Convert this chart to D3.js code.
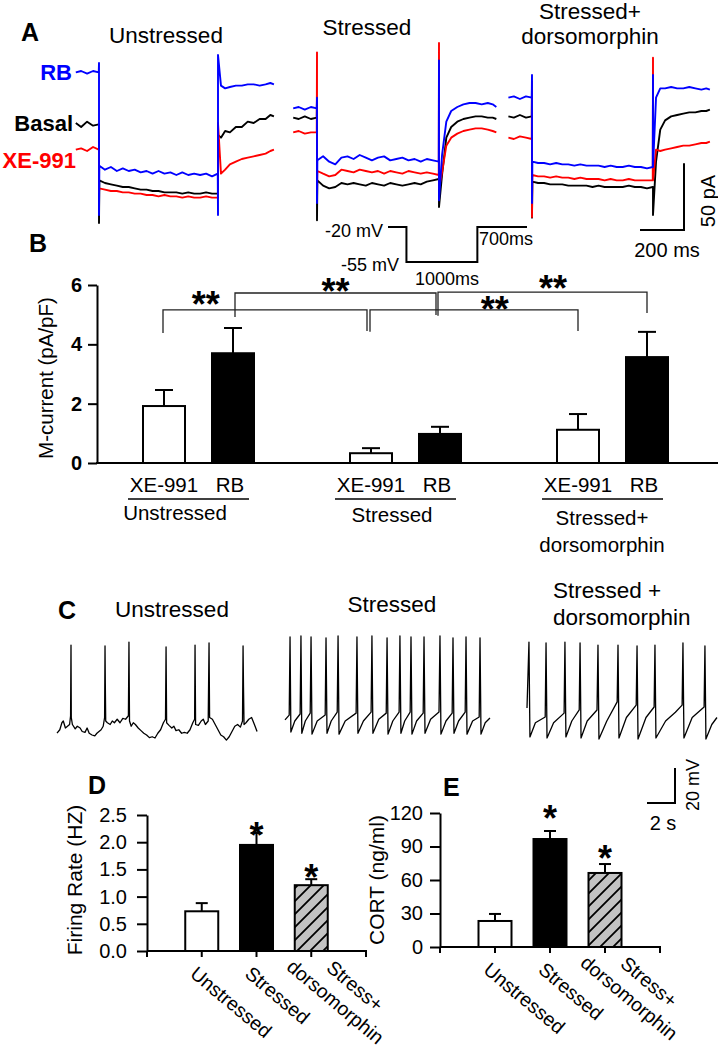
<!DOCTYPE html>
<html><head><meta charset="utf-8">
<script src="https://cdn.jsdelivr.net/npm/d3@7"></script>
<style>
body{margin:0;background:#fff}
svg{display:block}
text{font-family:"Liberation Sans",Arial,Helvetica,sans-serif}
</style>
</head><body>
<svg id="fig" width="718" height="1050"></svg>
<script>
// ================= DATA =================
// Panel A – whole-cell currents (pA); time in ms, voltage step from 0 to 1000 ms
const aPreT  = [-195, -150, -100, -50, -2];
const aStepT = [3, 50, 100, 150, 200, 250, 300, 350, 400, 450, 500, 550, 600, 650, 700, 750, 800, 850, 900, 950, 998];
const aPostT = [1025, 1060, 1100, 1150, 1200, 1250, 1300, 1350, 1400, 1440, 1470];
const aUnstressedBasal = {pre:[69,66,70,67,68], on:[68,-6], step:[26,24,23,22,21,21,20,19,19,18,18,17,17,17,16,17,16,16,17,16,16], off:[16,60], post:[58,63,62,66,66,70,69,72,72,75,74]};
const aUnstressedXE    = {pre:[49,50,48,51,49], on:[49,17], step:[20,19,18,18,17,17,16,16,15,15,14,15,14,14,13,14,13,13,14,13,13], off:[13,69], post:[31,34,38,40,42,43,44,45,46,48,49]};
const aUnstressedRB    = {pre:[107,108,106,108,107], on:[114,0], step:[37,34,36,33,35,33,34,32,33,31,33,31,32,30,32,30,31,30,31,29,31], off:[0,120], post:[97,95,96,97,97,98,98,97,98,99,98]};
const aStressedBasal   = {pre:[73,72,74,72,73], on:[87,-4], step:[26,22,20,21,24,23,24,23,22,24,23,22,24,23,22,23,24,23,25,26,27], off:[27,6], post:[30,58,66,70,72,73,74,74,73,73,72]};
const aStressedXE      = {pre:[62,63,61,62,62], on:[122,19], step:[33,31,29,30,34,33,32,34,33,32,33,31,33,32,31,33,32,31,32,31,30], off:[129,20], post:[32,52,58,61,63,64,65,65,64,63,62]};
const aStressedRB      = {pre:[80,81,79,81,80], on:[88,9], step:[41,44,40,38,43,44,42,45,43,41,43,44,41,42,43,41,42,40,42,41,40], off:[116,11], post:[45,70,78,81,83,84,84,83,84,83,81]};
const aDorsoBasal      = {pre:[74,73,75,73,74], on:[100,-2], step:[25,24,24,23,23,23,22,22,22,22,21,22,21,21,21,21,22,21,21,20,21], off:[21,0], post:[40,64,71,74,75,76,77,77,78,78,79]};
const aDorsoXE         = {pre:[58,57,59,58,57], on:[100,-1.5], step:[30,29,29,28,29,28,28,27,28,27,27,27,26,27,26,26,27,26,26,26,26], off:[118,26], post:[49,48,49,50,51,52,52,53,54,54,55]};
const aDorsoRB         = {pre:[88,89,87,89,88], on:[105,9], step:[40,39,39,38,39,38,38,37,38,37,37,37,36,37,36,36,37,36,36,35,36], off:[105,36], post:[88,95,95,96,95,95,96,95,94,95,94]};
const aTitles = [["Unstressed"], ["Stressed"], ["Stressed+", "dorsomorphin"]];
const aTraceNames = ["RB", "Basal", "XE-991"];
// voltage protocol
const protoT = [-260, 0, 0, 1000, 1000, 1700];
const protoV = [-20, -20, -55, -55, -20, -20];

// Panel B – M-current (pA/pF)
const bGroups = ["Unstressed", "Stressed", "Stressed+ dorsomorphin"];
const bDrugs = ["XE-991", "RB"];
const bXE991Mean = [1.92, 0.33, 1.12];
const bXE991Sem  = [0.54, 0.17, 0.53];
const bRBMean    = [3.70, 0.98, 3.57];
const bRBSem     = [0.85, 0.24, 0.85];
const bTicks = [0, 2, 4, 6];
const bBrackets = [
  {a:["Unstressed","XE-991"], b:["Stressed","XE-991"], top:5.16, legA:4.38, legB:4.45, label:"**"},
  {a:["Unstressed","RB"],     b:["Stressed","RB"],     top:5.73, legA:4.92, legB:4.99, label:"**"},
  {a:["Stressed","XE-991"],   b:["Stressed+ dorsomorphin","XE-991"], top:5.16, legA:4.42, legB:4.45, label:"**"},
  {a:["Stressed","RB"],       b:["Stressed+ dorsomorphin","RB"],     top:5.76, legA:4.96, legB:5.06, label:"**"}
];

// Panel C – membrane potential traces, [time s, mV]
const cUnstressed = [[0,-58.9],[0.2,-57],[0.35,-53],[0.45,-52],[0.6,-56],[0.75,-55],[0.9,-54],[0.97,-49],[1.0,-8.6],[1.02,-50],[1.1,-54],[1.3,-56.5],[1.45,-55],[1.65,-56],[1.8,-58],[2.0,-58.5],[2.15,-56],[2.3,-59],[2.5,-60],[2.7,-60.5],[2.85,-59],[3.0,-58],[3.15,-57],[3.3,-55],[3.4,-50],[3.43,-9.1],[3.45,-30],[3.48,-52],[3.6,-53],[3.8,-54],[3.95,-52],[4.1,-53],[4.3,-51],[4.5,-53],[4.7,-50.5],[4.9,-51],[5.1,-49],[5.14,-6.9],[5.18,-52],[5.3,-55],[5.45,-53],[5.6,-54],[5.8,-56],[6.0,-57.5],[6.2,-59],[6.4,-60],[6.6,-61.5],[6.8,-61],[7.0,-61.7],[7.2,-59],[7.4,-57],[7.6,-53],[7.75,-51],[7.79,-9.7],[7.83,-53],[8.0,-54.5],[8.2,-56],[8.35,-55],[8.5,-57.5],[8.7,-57],[8.9,-59],[9.1,-58.5],[9.3,-59],[9.5,-57],[9.7,-53],[9.83,-51],[9.86,-8.6],[9.9,-54],[10.1,-54.5],[10.3,-52],[10.45,-51],[10.6,-54],[10.8,-52],[10.86,-7.4],[10.9,-50],[11.1,-51],[11.3,-54],[11.5,-57],[11.7,-60],[11.9,-61],[12.1,-62.9],[12.3,-61],[12.5,-58],[12.7,-55],[12.9,-54],[13.1,-55.5],[13.25,-52],[13.29,-9.1],[13.32,-32],[13.36,-54],[13.5,-53],[13.7,-51],[13.9,-50],[14.1,-54],[14.29,-58]];
const cStressed = [[0,-51.4],[0.3,-48.6],[0.36,-4],[0.42,-58.3],[0.7,-52],[1.08,-48],[1.14,-3.4],[1.2,-59],[1.45,-52],[1.8,-47.5],[1.86,-4],[1.93,-59.5],[2.3,-52],[2.87,-48.6],[2.93,-4.5],[3.0,-59],[3.3,-52],[3.73,-46.9],[3.79,-3.4],[3.86,-59.5],[4.3,-52],[5.08,-47.5],[5.14,-4],[5.21,-59],[5.6,-52],[6.15,-46.9],[6.21,-3.4],[6.28,-59],[6.7,-51],[7.23,-47.5],[7.29,-4.5],[7.36,-59.5],[7.7,-52],[8.15,-46.9],[8.21,-3.4],[8.28,-59],[8.55,-52],[8.94,-46.9],[9.0,-4],[9.07,-59.5],[9.4,-52],[9.87,-47.5],[9.93,-4],[10.0,-59],[10.4,-51],[11.0,-46.9],[11.07,-3.4],[11.14,-59.5],[11.5,-52],[11.94,-47.5],[12.0,-4.5],[12.07,-59],[12.4,-52],[12.87,-46.9],[12.93,-4],[13.0,-59.5],[13.4,-52],[13.87,-49.7],[13.93,-4.5],[14.0,-59.5],[14.3,-53],[14.64,-50.3]];
const cDorso = [[0,-44.6],[0.14,-6.9],[0.21,-61.1],[0.6,-53],[1.3,-49.7],[1.36,-7.4],[1.43,-61.7],[1.9,-53],[2.65,-47.5],[2.71,-6.9],[2.78,-61.1],[3.2,-52],[3.73,-45.7],[3.79,-7.4],[3.86,-61.7],[4.3,-52],[5.0,-45.7],[5.07,-8.6],[5.14,-62.3],[5.7,-52],[6.44,-41.1],[6.5,-8.6],[6.57,-61.7],[7.1,-50],[7.8,-42.9],[7.86,-9.1],[7.93,-62.3],[8.5,-50],[9.08,-44],[9.14,-8.6],[9.21,-61.7],[9.9,-52],[10.6,-47],[11.08,-42.9],[11.14,-7.4],[11.21,-61.7],[11.8,-50],[12.65,-44],[12.71,-9.1],[12.78,-62.3],[13.2,-54],[13.57,-50]];
const cTitles = [["Unstressed"], ["Stressed"], ["Stressed +", "dorsomorphin"]];

// Panels D & E
const deCats = ["", "Unstressed", "Stressed", "dorsomorphin", "Stress+"];
const deBarCats = ["Unstressed", "Stressed", "dorsomorphin"];
const firingMean = [0.73, 1.95, 1.21];
const firingSem  = [0.15, 0.22, 0.11];
const firingStar = [null, 2.26, 1.49];
const firingTicks = [0, 0.5, 1.0, 1.5, 2.0, 2.5];
const cortMean = [23.3, 96.7, 66.3];
const cortSem  = [6.3, 7.2, 8.0];
const cortStar = [null, 121.8, 86];
const cortTicks = [0, 30, 60, 90, 120];

// ================= DRAWING =================
const svg = d3.select("#fig");
svg.append("rect").attr("width", 718).attr("height", 1050).attr("fill", "#fff");
const defs = svg.append("defs");
const pat = defs.append("pattern").attr("id", "hatch").attr("patternUnits", "userSpaceOnUse")
  .attr("width", 13).attr("height", 13);
pat.append("rect").attr("width", 13).attr("height", 13).attr("fill", "#c3c3c3");
pat.append("path").attr("d", "M-2,15 L15,-2 M-2,2 L2,-2 M11,15 L15,11").attr("stroke", "#000").attr("stroke-width", 1.8);

function T(x, y, s, size, o = {}) {
  const t = svg.append("text").attr("x", x).attr("y", y).text(s).attr("font-size", size)
    .attr("text-anchor", o.anchor || "start").attr("font-weight", o.bold ? "bold" : "normal")
    .attr("fill", o.fill || "#000");
  if (o.rotate != null) t.attr("transform", `rotate(${o.rotate},${x},${y})`);
  return t;
}
function L(x1, y1, x2, y2, w = 2, c = "#000") {
  return svg.append("line").attr("x1", x1).attr("y1", y1).attr("x2", x2).attr("y2", y2)
    .attr("stroke", c).attr("stroke-width", w);
}

// ---------- Panel A ----------
T(21, 41, "A", 25, {bold: true});
const yA = d3.scaleLinear().domain([0, 120]).range([215, 55]);
const aColors = ["#000000", "#ff0000", "#0000ff"];
const aPanels = [
  {traces: [aUnstressedBasal, aUnstressedXE, aUnstressedRB], x0: 99, x1: 218, tx: 166, ty: [43]},
  {traces: [aStressedBasal, aStressedXE, aStressedRB], x0: 317, x1: 439, tx: 367, ty: [35]},
  {traces: [aDorsoBasal, aDorsoXE, aDorsoRB], x0: 532, x1: 653, tx: 590, ty: [19, 44]}
];
aPanels.forEach((p, k) => {
  const x = d3.scaleLinear().domain([0, 1000]).range([p.x0, p.x1]);
  p.traces.forEach((tr, i) => {
    const pts = [];
    tr.pre.forEach((v, j) => pts.push([aPreT[j], v]));
    tr.on.forEach(v => pts.push([0, v]));
    tr.step.forEach((v, j) => pts.push([aStepT[j], v]));
    tr.off.forEach(v => pts.push([1000, v]));
    tr.post.forEach((v, j) => pts.push([aPostT[j], v]));
    svg.append("path").attr("d", d3.line().x(d => x(d[0])).y(d => yA(d[1]))(pts))
      .attr("fill", "none").attr("stroke", aColors[i]).attr("stroke-width", 1.9)
      .attr("stroke-linejoin", "round");
  });
  aTitles[k].forEach((s, j) => T(p.tx, p.ty[j], s, 22.5, {anchor: "middle"}));
});
T(72, 80, aTraceNames[0], 22, {bold: true, anchor: "end", fill: "#0000ff"});
T(73, 131, aTraceNames[1], 22, {bold: true, anchor: "end"});
T(76, 168, aTraceNames[2], 22, {bold: true, anchor: "end", fill: "#ff0000"});
// voltage protocol
const px = d3.scaleLinear().domain([-260, 1700]).range([388, 527]);
const pv = d3.scaleLinear().domain([-55, -20]).range([262, 227]);
svg.append("path").attr("d", d3.line().x((d, i) => px(protoT[i])).y((d, i) => pv(protoV[i]))(protoT))
  .attr("fill", "none").attr("stroke", "#000").attr("stroke-width", 2);
T(383, 237, "-20 mV", 18, {anchor: "end"});
T(399, 271, "-55 mV", 18, {anchor: "end"});
T(479, 245, "700ms", 18);
T(447, 285, "1000ms", 18, {anchor: "middle"});
// scale bar A (50 pA / 200 ms)
const sbY0 = 230, sbX1 = 684;
L(sbX1, sbY0, sbX1, sbY0 - (yA(0) - yA(50)), 2);
L(sbX1 - 44, sbY0, sbX1 + 1, sbY0, 2);
T(715, 201, "50 pA", 20, {anchor: "middle", rotate: -90});
T(667, 257, "200 ms", 20, {anchor: "middle"});

// ---------- Panel B ----------
T(29, 252, "B", 25, {bold: true});
const yB = d3.scaleLinear().domain([0, 6]).range([463, 285]);
const xG = d3.scalePoint().domain(bGroups).range([199, 613]);
const xS = d3.scalePoint().domain(bDrugs).range([-35, 34]);
const bw = 42;
const bSeries = [
  {drug: "XE-991", mean: bXE991Mean, sem: bXE991Sem, fill: "#fff"},
  {drug: "RB", mean: bRBMean, sem: bRBSem, fill: "#000"}
];
bSeries.forEach(s => {
  bGroups.forEach((g, i) => {
    const cx = xG(g) + xS(s.drug);
    L(cx, yB(s.mean[i]), cx, yB(s.mean[i] + s.sem[i]), 2);
    L(cx - 9, yB(s.mean[i] + s.sem[i]), cx + 9, yB(s.mean[i] + s.sem[i]), 2);
    svg.append("rect").attr("x", cx - bw / 2).attr("y", yB(s.mean[i]))
      .attr("width", bw).attr("height", yB(0) - yB(s.mean[i]))
      .attr("fill", s.fill).attr("stroke", "#000").attr("stroke-width", 2);
  });
});
const axB = svg.append("g").attr("transform", "translate(97,0)")
  .call(d3.axisLeft(yB).tickValues(bTicks).tickSize(9).tickSizeOuter(0).tickPadding(6).tickFormat(d3.format("d")));
axB.select(".domain").attr("stroke-width", 2);
axB.selectAll(".tick line").attr("stroke-width", 2);
axB.selectAll(".tick text").attr("font-size", 20).attr("font-weight", "bold").attr("font-family", '"Liberation Sans",Arial,sans-serif');
L(96, yB(0), 718, yB(0), 2);
T(53, 378, "M-current (pA/pF)", 20.5, {anchor: "middle", rotate: -90});
// category labels
const bGroupDx = [-24, -14, -11];
bGroups.forEach((g, i) => {
  bDrugs.forEach(d => T(xG(g) + xS(d) - (d === "RB" ? 3 : 0), 492, d, 20.5, {anchor: "middle"}));
  L(xG(g) - 71, 499, xG(g) + 50, 499, 1.6);
  const parts = g === "Stressed+ dorsomorphin" ? ["Stressed+", "dorsomorphin"] : [g];
  parts.forEach((s, j) => T(xG(g) + bGroupDx[i], 520 + j * 27 + (parts.length > 1 ? 5 : 0) + (i === 1 ? 2 : 0), s, 20.5, {anchor: "middle"}));
});
// significance brackets
const bBrDx = [[-1, -4], [2, -4], [-1, 0], [-2, 0]];
const bStarF = [0.21, 0.5, 0.6, 0.55];
const bStarDy = [13, 9, 8, 11];
bBrackets.forEach((br, i) => {
  const xa = xG(br.a[0]) + xS(br.a[1]) + bBrDx[i][0];
  const xb = xG(br.b[0]) + xS(br.b[1]) + bBrDx[i][1];
  svg.append("path").attr("d", `M${xa},${yB(br.legA)}V${yB(br.top)}H${xb}V${yB(br.legB)}`)
    .attr("fill", "none").attr("stroke", "#222").attr("stroke-width", 1.3);
  const sx = xa + (xb - xa) * bStarF[i];
  T(sx, yB(br.top) - bStarDy[i] + 20, br.label, 36, {anchor: "middle", bold: true});
});

// ---------- Panel C ----------
T(58, 619, "C", 25, {bold: true});
const yC = d3.scaleLinear().domain([-60, -4]).range([735, 637]);
const cTraces = [{d: cUnstressed, x0: 57}, {d: cStressed, x0: 285}, {d: cDorso, x0: 527}];
cTraces.forEach(tr => {
  const x = d3.scaleLinear().domain([0, 1]).range([tr.x0, tr.x0 + 14]);
  svg.append("path").attr("d", d3.line().x(d => x(d[0])).y(d => yC(d[1]))(tr.d))
    .attr("fill", "none").attr("stroke", "#000").attr("stroke-width", 1.3).attr("stroke-linejoin", "round");
});
T(172, 617, cTitles[0][0], 22.5, {anchor: "middle"});
T(392, 612, cTitles[1][0], 22.5, {anchor: "middle"});
T(553, 598, cTitles[2][0], 22.5);
T(553, 625, cTitles[2][1], 22.5);
// scale bar C (20 mV / 2 s)
const sbCx = 675, sbCy = 803;
L(sbCx, sbCy, sbCx, sbCy - (yC(-60) - yC(-40)), 2);
L(sbCx - 28, sbCy, sbCx + 1, sbCy, 2);
T(699, 785, "20 mV", 18, {anchor: "middle", rotate: -90});
T(663, 830, "2 s", 20, {anchor: "middle"});

// ---------- Panels D & E ----------
const deFills = ["#fff", "#000", "url(#hatch)"];
const deLblDx = [0, -3, -3, -16, -31];
const deLblDy = [0, 13, 13, 6, 7];
function barPanel(cfg) {
  const y = d3.scaleLinear().domain([0, cfg.max]).range(cfg.yRange);
  const x = d3.scalePoint().domain(deCats).range(cfg.xRange);
  const w = 33;
  deBarCats.forEach((c, i) => {
    const cx = x(c);
    L(cx, y(cfg.mean[i]), cx, y(cfg.mean[i] + cfg.sem[i]), 2);
    L(cx - 6, y(cfg.mean[i] + cfg.sem[i]), cx + 6, y(cfg.mean[i] + cfg.sem[i]), 2);
    svg.append("rect").attr("x", cx - w / 2).attr("y", y(cfg.mean[i])).attr("width", w)
      .attr("height", y(0) - y(cfg.mean[i])).attr("fill", deFills[i]).attr("stroke", "#000").attr("stroke-width", 2);
    if (cfg.star[i] != null) T(cx, y(cfg.star[i]) + 20, "*", 36, {anchor: "middle", bold: true});
  });
  const ax = svg.append("g").attr("transform", `translate(${x("")},0)`)
    .call(d3.axisLeft(y).tickValues(cfg.ticks).tickSize(10).tickSizeOuter(0).tickPadding(cfg.pad).tickFormat(cfg.fmt));
  ax.select(".domain").attr("stroke-width", 2);
  ax.selectAll(".tick line").attr("stroke-width", 2);
  ax.selectAll(".tick text").attr("font-size", 20).attr("font-family", '"Liberation Sans",Arial,sans-serif');
  L(x(""), y(0), x("Stress+") + 1, y(0), 2);
  deCats.forEach((c, i) => {
    L(x(c), y(0), x(c), y(0) + 6, 2);
    if (c) {
      const lx = x(c) + deLblDx[i], ly = y(0) + deLblDy[i];
      svg.append("text").attr("transform", `translate(${lx},${ly}) rotate(40)`)
        .attr("dy", "0.78em").attr("font-size", 19.5).text(c);
    }
  });
  T(cfg.labX, 880, cfg.label, 21, {anchor: "middle", rotate: -90});
  T(cfg.letter[0], cfg.letter[1], cfg.letter[2], 25, {bold: true});
}
barPanel({max: 2.5, yRange: [951, 815], xRange: [147, 366], mean: firingMean, sem: firingSem, star: firingStar,
  ticks: firingTicks, fmt: d3.format(".1f"), pad: 10, label: "Firing Rate (HZ)", labX: 82, letter: [88, 794, "D"]});
barPanel({max: 120, yRange: [947, 813], xRange: [440, 660], mean: cortMean, sem: cortSem, star: cortStar,
  ticks: cortTicks, fmt: d3.format("d"), pad: 7, label: "CORT (ng/ml)", labX: 384, letter: [443, 796, "E"]});
</script>
</body></html>
